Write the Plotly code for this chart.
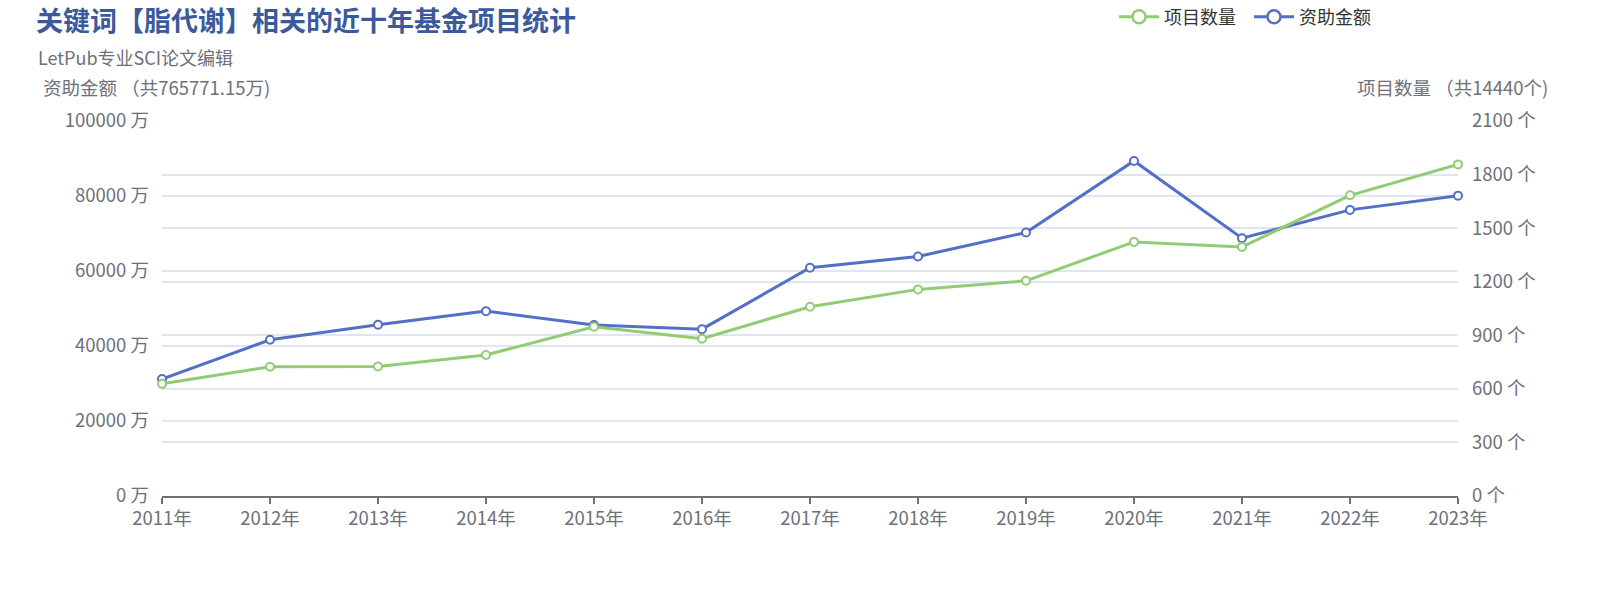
import plotly.graph_objects as go

# data
years = ["2011年", "2012年", "2013年", "2014年", "2015年", "2016年", "2017年",
         "2018年", "2019年", "2020年", "2021年", "2022年", "2023年"]
project_count = [628, 724, 725, 790, 948, 881, 1060, 1157, 1205, 1423, 1395, 1684, 1857]
funding_wan = [31200, 41650, 45650, 49300, 45600, 44500, 60850, 63850, 70250,
               89350, 68750, 76300, 80100]

total_count = "14440"
total_funding = "765771.15"

GREEN = "#91cc75"
BLUE = "#5470c6"
GREY = "#6E7079"
GRID = "#E0E6F1"
FONT = "Noto Sans CJK SC"

W, H = 1620, 600
L, R, T, B = 162, 162, 121, 104


def series(name, ys, color, axis):
    return go.Scatter(
        x=years, y=ys, name=name, yaxis=axis, showlegend=False,
        mode="lines+markers",
        line=dict(color=color, width=3),
        marker=dict(size=8, color="white", line=dict(color=color, width=2)),
        cliponaxis=False,
    )


def legend_entry(name, color):
    # legend-only entry so the legend icon can be drawn bigger than the data markers
    return go.Scatter(
        x=[None], y=[None], name=name, mode="lines+markers",
        line=dict(color=color, width=3),
        marker=dict(size=13, color="white", line=dict(color=color, width=2.5)),
    )


fig = go.Figure(data=[
    series("项目数量", project_count, GREEN, "y2"),
    series("资助金额", funding_wan, BLUE, "y"),
    legend_entry("项目数量", GREEN),
    legend_entry("资助金额", BLUE),
])

fig.update_layout(
    width=W, height=H,
    margin=dict(l=L, r=R, t=T, b=B),
    paper_bgcolor="white", plot_bgcolor="white",
    font=dict(family=FONT, size=18, color=GREY),
    title=dict(
        text="<b>关键词【脂代谢】相关的近十年基金项目统计</b>",
        font=dict(family=FONT, size=27, color="#3b5a9b"),
        x=36 / W, xref="container", xanchor="left",
        y=1 - 22 / H, yref="container", yanchor="middle",
    ),
    legend=dict(
        orientation="h", xref="container", yref="container",
        x=1114 / W, xanchor="left", y=1 - 17 / H, yanchor="middle",
        font=dict(size=18, color="#333333"),
        itemwidth=40, entrywidth=80, tracegroupgap=0,
    ),
    xaxis=dict(
        type="category", range=[0, len(years) - 1],
        showgrid=False, zeroline=False,
        showline=True, linecolor=GREY, linewidth=1.5,
        ticks="outside", ticklen=6, tickcolor=GREY, tickwidth=1.5,
        ticklabelstandoff=-1,
        tickfont=dict(size=18.5, color=GREY),
    ),
    yaxis=dict(
        range=[0, 100000], dtick=20000, ticksuffix=" 万", tickformat="d",
        showgrid=True, gridcolor=GRID, gridwidth=1.5,
        zeroline=False, showline=False, ticks="",
        ticklabelstandoff=12,
        tickfont=dict(size=18.5, color=GREY),
    ),
    yaxis2=dict(
        range=[0, 2100], dtick=300, ticksuffix=" 个", tickformat="d",
        overlaying="y", side="right",
        showgrid=True, gridcolor=GRID, gridwidth=1.5,
        zeroline=False, showline=False, ticks="",
        ticklabelstandoff=13,
        tickfont=dict(size=18.5, color=GREY),
    ),
)

fig.add_annotation(
    text="LetPub专业SCI论文编辑", xref="paper", yref="paper",
    x=-(L - 36) / (W - L - R), xanchor="left",
    y=1 + (T - 57) / (H - T - B), yanchor="middle",
    showarrow=False, font=dict(size=18, color=GREY),
)
fig.add_annotation(
    text=f"资助金额 （共{total_funding}万)", xref="paper", yref="paper",
    x=0, xanchor="center", xshift=-6, y=1 + (T - 87) / (H - T - B), yanchor="middle",
    showarrow=False, font=dict(size=18.5, color=GREY),
)
fig.add_annotation(
    text=f"项目数量 （共{total_count}个)", xref="paper", yref="paper",
    x=1, xanchor="center", xshift=-6, y=1 + (T - 87) / (H - T - B), yanchor="middle",
    showarrow=False, font=dict(size=18.5, color=GREY),
)

# drop the browser's default page margin so the figure sits at the window corner
fig.write_html("out.html", config={"displayModeBar": False},
               post_script="document.body.style.margin='0';")
